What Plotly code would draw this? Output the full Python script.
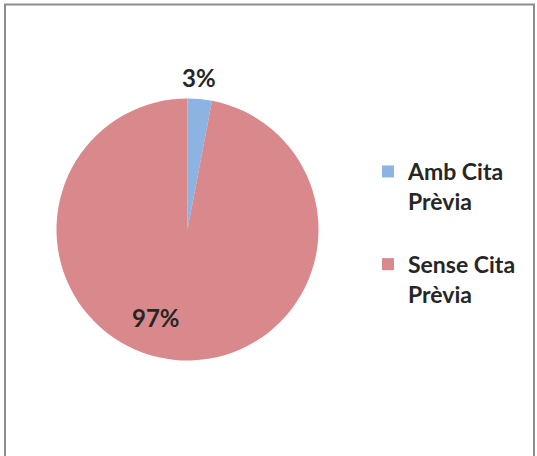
import plotly.graph_objects as go

labels = ["Amb Cita Prèvia", "Sense Cita Prèvia"]
legend_names = ["Amb Cita<br>Prèvia<br> ", "Sense Cita<br>Prèvia"]
values = [3, 97]
colors = ["#8DB3E2", "#D9888C"]

W, H = 537, 456
cx, cy, r = 187.5, 229.5, 131

fig = go.Figure()
fig.add_trace(go.Pie(
    labels=[f"<b>{n}</b>" for n in legend_names],
    values=values,
    marker=dict(colors=colors, line=dict(width=0)),
    textinfo="none",
    sort=False,
    direction="clockwise",
    rotation=0,
    hoverinfo="percent",
    domain=dict(x=[(cx - r) / W, (cx + r) / W], y=[(H - cy - r) / H, (H - cy + r) / H]),
))

total = sum(values)
pct = [f"{round(v * 100 / total)}%" for v in values]
label_pos = [(199, 78), (156, 317)]
for t, (px, py) in zip(pct, label_pos):
    fig.add_annotation(text=f"<b>{t}</b>", x=px / W, y=1 - py / H, xref="paper", yref="paper",
                       xanchor="center", yanchor="middle",
                       showarrow=False, font=dict(family="Lato", size=24, color="#262626"))

fig.add_shape(type="rect", xref="paper", yref="paper",
              x0=5 / W, x1=534 / W, y0=-0.02, y1=1 - 4.5 / H,
              line=dict(color="#8C8C8C", width=2))

fig.update_layout(
    width=W, height=H,
    margin=dict(l=0, r=0, t=0, b=0),
    paper_bgcolor="white",
    plot_bgcolor="white",
    font=dict(family="Lato", size=23, color="#262626"),
    legend=dict(x=368 / W, y=1 - 150 / H, xanchor="left", yanchor="top",
                valign="top", itemwidth=30,
                font=dict(family="Lato", size=23, color="#262626"),
                bgcolor="rgba(0,0,0,0)"),
    showlegend=True,
)

fig.write_html("out.html", config={"displayModeBar": False},
               post_script="document.body.style.margin='0';document.body.style.overflow='hidden';")
